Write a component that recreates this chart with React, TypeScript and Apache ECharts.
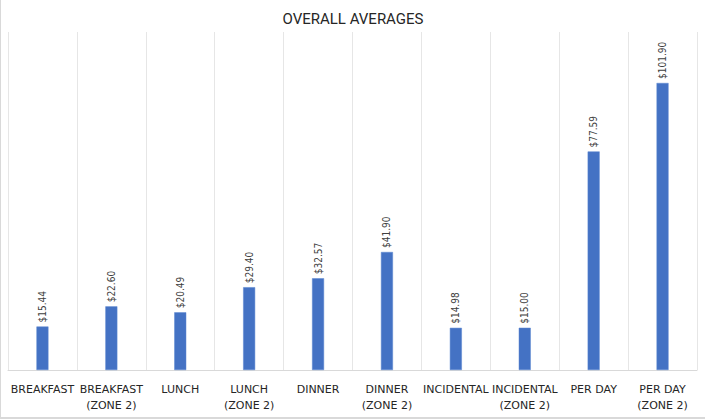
import React, { useEffect, useRef } from "react";
import * as echarts from "echarts";

const categories = [
  "BREAKFAST",
  "BREAKFAST\n(ZONE 2)",
  "LUNCH",
  "LUNCH\n(ZONE 2)",
  "DINNER",
  "DINNER\n(ZONE 2)",
  "INCIDENTAL",
  "INCIDENTAL\n(ZONE 2)",
  "PER DAY",
  "PER DAY\n(ZONE 2)",
];
const values = [15.44, 22.6, 20.49, 29.4, 32.57, 41.9, 14.98, 15.0, 77.59, 101.9];
const title = "OVERALL AVERAGES";

export default function App() {
  const ref = useRef<HTMLDivElement>(null);
  useEffect(() => {
    document.body.style.margin = "0";
    const chart = echarts.init(ref.current!, null, { renderer: "svg" });
    chart.setOption({
      animation: false,
      backgroundColor: "#ffffff",
      title: {
        text: title,
        left: "center",
        top: 6,
        textStyle: {
          fontFamily: "Liberation Sans Narrow, Roboto, sans-serif",
          fontSize: 15,
          fontWeight: "normal",
          color: "#262626",
        },
      },
      grid: { left: 7, right: 8, top: 32, bottom: 47, containLabel: false },
      xAxis: {
        type: "category",
        data: categories,
        axisLine: { lineStyle: { color: "#d9d9d9", width: 1 } },
        axisTick: { show: false },
        splitLine: { show: true, lineStyle: { color: "#e6e6e6", width: 1 } },
        axisLabel: {
          interval: 0,
          margin: 11,
          fontFamily: "Tahoma, DejaVu Sans, sans-serif",
          fontSize: 11,
          lineHeight: 16,
          color: "#262626",
        },
      },
      yAxis: {
        type: "value",
        min: 0,
        max: 120,
        show: false,
        splitLine: { show: false },
      },
      series: [
        {
          type: "bar",
          data: values,
          barWidth: 12,
          itemStyle: { color: "#4472C4", borderColor: "#5b86d0", borderWidth: 0.5 },
          label: {
            show: true,
            position: "top",
            rotate: 90,
            align: "left",
            verticalAlign: "middle",
            distance: 4,
            fontFamily: "DejaVu Sans Condensed, DejaVu Sans, sans-serif",
            fontSize: 10,
            color: "#404040",
            formatter: (p: any) => "$" + Number(p.value).toFixed(2),
          },
        },
      ],
    });
    return () => chart.dispose();
  }, []);
  return (
    <div
      style={{
        width: 705,
        height: 419,
        boxSizing: "border-box",
        borderLeft: "1px solid #d9d9d9",
        borderBottom: "2px solid #d9d9d9",
        position: "relative",
      }}
    >
      <div ref={ref} style={{ width: 704, height: 417 }} />
    </div>
  );
}
